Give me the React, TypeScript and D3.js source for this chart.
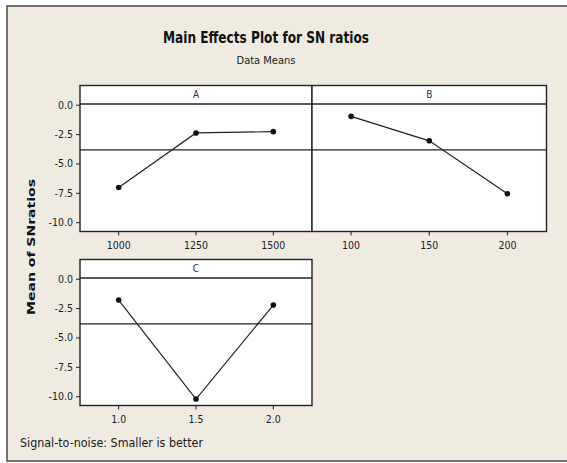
import React from "react";
import * as d3 from "d3";

const levelsA = ["1000", "1250", "1500"];
const valuesA = [-7.0, -2.36, -2.25];
const levelsB = ["100", "150", "200"];
const valuesB = [-0.95, -3.03, -7.53];
const levelsC = ["1.0", "1.5", "2.0"];
const valuesC = [-1.77, -10.2, -2.2];
const grandMean = -3.8;
const yTicks = [0, -2.5, -5, -7.5, -10];

const W = 567;
const H = 463;
const FONT = "'DejaVu Sans Condensed', 'Liberation Sans Narrow', 'DejaVu Sans', sans-serif";
const TEXT = "#1c1c28";
const fmt = (t: number) => d3.format(".1f")(t).replace("\u2212", "-");

type PanelProps = {
  name: string;
  levels: string[];
  values: number[];
  x0: number;
  x1: number;
  top: number;
  bottom: number;
  showY: boolean;
};

function Panel({ name, levels, values, x0, x1, top, bottom, showY }: PanelProps) {
  const x = d3.scalePoint<string>().domain(levels).range([x0, x1]).padding(0.5);
  const y = d3.scaleLinear().domain([-10.75, 1.68]).range([bottom, top]);
  const line = d3
    .line<number>()
    .x((_, i) => x(levels[i]) as number)
    .y((v) => y(v));
  const stripBottom = y(0.1);
  return (
    <g>
      <rect x={x0} y={top} width={x1 - x0} height={bottom - top} fill="#ffffff" />
      <line x1={x0} x2={x1} y1={y(grandMean)} y2={y(grandMean)} stroke="#222" strokeWidth={1.1} />
      <line x1={x0} x2={x1} y1={stripBottom} y2={stripBottom} stroke="#222" strokeWidth={1.4} />
      <text x={(x0 + x1) / 2} y={top + 12} textAnchor="middle" fontFamily={FONT} fontSize={10} fill="#2a3050">
        {name}
      </text>
      <path d={line(values) || ""} fill="none" stroke="#222" strokeWidth={1.2} />
      {values.map((v, i) => (
        <circle key={i} cx={x(levels[i]) as number} cy={y(v)} r={2.8} fill="#111" />
      ))}
      <rect x={x0} y={top} width={x1 - x0} height={bottom - top} fill="none" stroke="#222" strokeWidth={1.4} />
      {levels.map((l) => (
        <g key={l}>
          <line x1={x(l) as number} x2={x(l) as number} y1={bottom} y2={bottom + 4} stroke="#222" strokeWidth={1} />
          <text x={x(l) as number} y={bottom + 17} textAnchor="middle" fontFamily={FONT} fontSize={10.5} fill={TEXT}>
            {l}
          </text>
        </g>
      ))}
      {showY &&
        yTicks.map((t) => (
          <g key={t}>
            <line x1={x0 - 4} x2={x0} y1={y(t)} y2={y(t)} stroke="#222" strokeWidth={1} />
            <text x={x0 - 7} y={y(t) + 3.5} textAnchor="end" fontFamily={FONT} fontSize={10.5} fill={TEXT}>
              {fmt(t)}
            </text>
          </g>
        ))}
    </g>
  );
}

export default function App() {
  return (
    <svg
      width={W}
      height={H}
      viewBox={`0 0 ${W} ${H}`}
      style={{ position: "absolute", left: 0, top: 0, display: "block" }}
    >
      <rect x={0} y={0} width={W} height={H} fill="#ffffff" />
      <rect x={7} y={6} width={W + 10} height={455} fill="#EFEBE1" stroke="#4a4a4a" strokeWidth={1.5} />
      <text
        x={266}
        y={43}
        textAnchor="middle"
        fontFamily={FONT}
        fontWeight="bold"
        fontSize={15}
        fill="#111"
        textLength={206}
        lengthAdjust="spacingAndGlyphs"
      >
        Main Effects Plot for SN ratios
      </text>
      <text
        x={266}
        y={64}
        textAnchor="middle"
        fontFamily={FONT}
        fontSize={11}
        fill="#222"
        textLength={59}
        lengthAdjust="spacingAndGlyphs"
      >
        Data Means
      </text>
      <Panel name="A" levels={levelsA} values={valuesA} x0={80} x1={312} top={85.5} bottom={231.5} showY={true} />
      <Panel name="B" levels={levelsB} values={valuesB} x0={312} x1={546.5} top={85.5} bottom={231.5} showY={false} />
      <Panel name="C" levels={levelsC} values={valuesC} x0={80} x1={312} top={259.5} bottom={405.5} showY={true} />
      <text
        transform="translate(35,247) rotate(-90)"
        textAnchor="middle"
        fontFamily="'DejaVu Sans', sans-serif"
        fontWeight="bold"
        fontSize={10.5}
        fill="#111"
        textLength={136}
        lengthAdjust="spacingAndGlyphs"
      >
        Mean of SNratios
      </text>
      <text
        x={20}
        y={447}
        fontFamily={FONT}
        fontSize={11.5}
        fill="#1a1a1a"
        textLength={183}
        lengthAdjust="spacingAndGlyphs"
      >
        Signal-to-noise: Smaller is better
      </text>
    </svg>
  );
}
